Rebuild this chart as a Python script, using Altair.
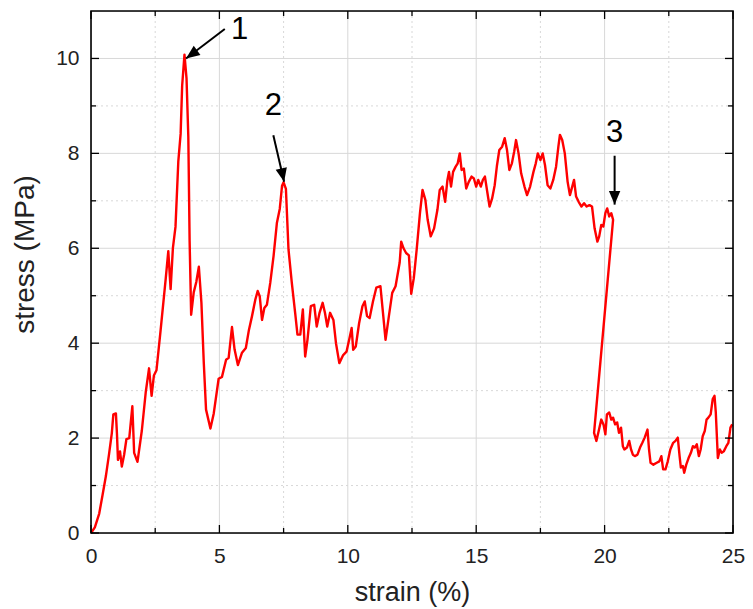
import altair as alt
import pandas as pd

# ---- data ----
strain = [0, 0.15, 0.32, 0.45, 0.58, 0.7, 0.81, 0.87, 0.97, 1.01, 1.05, 1.13, 1.2, 1.29, 1.38, 1.49,
          1.61, 1.68, 1.81, 1.98, 2.13, 2.26, 2.36, 2.45, 2.55, 2.71, 2.91, 3.01, 3.1, 3.19, 3.29,
          3.4, 3.49, 3.55, 3.64, 3.72, 3.79, 3.84, 3.9, 4.0, 4.1, 4.2, 4.3, 4.39, 4.48, 4.65, 4.78,
          4.97, 5.1, 5.26, 5.36, 5.49, 5.59, 5.72, 5.88, 6.03, 6.15, 6.27, 6.4, 6.49, 6.57, 6.66,
          6.75, 6.85, 6.98, 7.11, 7.24, 7.35, 7.44, 7.5, 7.59, 7.69, 7.82, 7.95, 8.04, 8.15, 8.25,
          8.34, 8.43, 8.56, 8.69, 8.79, 8.9, 9.02, 9.11, 9.2, 9.31, 9.44, 9.54, 9.67, 9.82, 9.95,
          10.08, 10.15, 10.21, 10.31, 10.44, 10.57, 10.66, 10.75, 10.85, 10.98, 11.11, 11.27, 11.37,
          11.47, 11.6, 11.73, 11.86, 12.02, 12.08, 12.17, 12.27, 12.38, 12.47, 12.57, 12.68, 12.81,
          12.91, 13.02, 13.11, 13.23, 13.36, 13.49, 13.58, 13.69, 13.79, 13.88, 13.94, 14.02, 14.1,
          14.2, 14.28, 14.36, 14.43, 14.52, 14.61, 14.71, 14.82, 14.91, 15.0, 15.08, 15.18, 15.26,
          15.34, 15.43, 15.52, 15.62, 15.72, 15.81, 15.9, 16.01, 16.11, 16.2, 16.29, 16.39, 16.48,
          16.55, 16.65, 16.75, 16.88, 16.98, 17.1, 17.23, 17.32, 17.4, 17.5, 17.59, 17.68, 17.78,
          17.89, 18.0, 18.11, 18.2, 18.26, 18.35, 18.45, 18.56, 18.65, 18.74, 18.81, 18.89, 18.99,
          19.1, 19.2, 19.3, 19.41, 19.51, 19.61, 19.72, 19.79, 19.87, 19.95, 20.03, 20.1, 20.18,
          20.26, 20.33, 19.59, 19.68, 19.77, 19.87, 19.96, 20.03, 20.09, 20.18, 20.26, 20.33, 20.41,
          20.49, 20.56, 20.64, 20.71, 20.77, 20.87, 20.96, 21.03, 21.1, 21.18, 21.28, 21.38, 21.47,
          21.56, 21.67, 21.73, 21.79, 21.9, 22.03, 22.13, 22.21, 22.28, 22.37, 22.46, 22.56, 22.67,
          22.76, 22.85, 22.92, 22.97, 23.05, 23.1, 23.18, 23.27, 23.36, 23.44, 23.51, 23.59, 23.67,
          23.74, 23.82, 23.9, 23.97, 24.04, 24.13, 24.21, 24.28, 24.33, 24.41, 24.49, 24.56, 24.64,
          24.74, 24.82, 24.9, 24.97]
stress = [0, 0.12, 0.41, 0.8, 1.2, 1.65, 2.1, 2.5, 2.52, 2.1, 1.54, 1.72, 1.4, 1.65, 1.98, 2.0,
          2.67, 1.69, 1.5, 2.16, 2.96, 3.47, 2.89, 3.32, 3.43, 4.27, 5.36, 5.94, 5.14, 6.01, 6.45,
          7.83, 8.41, 9.43, 10.08, 9.58, 8.34, 6.16, 4.6, 5.07, 5.29, 5.61, 4.85, 3.61, 2.6, 2.2, 2.52,
          3.25, 3.29, 3.65, 3.69, 4.34, 3.87, 3.54, 3.8, 3.9, 4.28, 4.57, 4.92, 5.1, 4.99, 4.49,
          4.74, 4.81, 5.27, 5.84, 6.54, 6.83, 7.32, 7.39, 7.25, 5.98, 5.27, 4.64, 4.18, 4.18, 4.71,
          3.72, 4.07, 4.78, 4.81, 4.35, 4.64, 4.85, 4.64, 4.35, 4.64, 4.49, 4.0, 3.58, 3.75, 3.82,
          4.14, 4.32, 3.86, 3.93, 4.42, 4.78, 4.88, 4.57, 4.53, 4.88, 5.17, 5.2, 4.64,
          4.07, 4.57, 5.06, 5.2, 5.7, 6.14, 6.0, 5.9, 5.85, 5.04, 5.37, 5.96, 6.74,
          7.23, 7.02, 6.6, 6.25, 6.42, 6.81, 7.23, 7.3, 6.98, 7.44, 7.61, 7.3, 7.61,
          7.72, 7.79, 8.0, 7.65, 7.68, 7.26, 7.4, 7.51, 7.47, 7.3, 7.44, 7.3, 7.44,
          7.51, 7.19, 6.88, 7.05, 7.33, 7.75, 8.07, 8.14, 8.32, 8.07, 7.65, 7.79, 8.04,
          8.28, 8.0, 7.58, 7.3, 7.12, 7.3, 7.61, 7.79, 8.0, 7.86, 8.0, 7.75, 7.33,
          7.26, 7.44, 7.72, 8.14, 8.39, 8.28, 8.0, 7.4, 7.12, 7.3, 7.44, 7.09, 6.98,
          6.88, 6.95, 6.88, 6.91, 6.88, 6.42, 6.14, 6.25, 6.49, 6.46, 6.74, 6.84, 6.67,
          6.74, 6.6, 2.11, 1.94, 2.15, 2.39, 2.28, 2.08, 2.5, 2.54, 2.39, 2.43, 2.29,
          2.33, 2.11, 2.22, 1.83, 1.76, 1.8, 1.94, 1.76, 1.65, 1.62, 1.65, 1.8, 1.9,
          2.01, 2.18, 1.76, 1.48, 1.44, 1.48, 1.51, 1.62, 1.34, 1.34, 1.51, 1.76, 1.9,
          1.94, 2.01, 1.62, 1.38, 1.41, 1.27, 1.44, 1.58, 1.69, 1.83, 1.8, 1.87, 1.62,
          1.76, 2.04, 2.15, 2.39, 2.43, 2.5, 2.82, 2.89, 2.54, 1.58, 1.76, 1.69, 1.72,
          1.83, 1.9, 2.22, 2.29]

x_major = [0, 5, 10, 15, 20, 25]
x_minor = [2.5, 7.5, 12.5, 17.5, 22.5]
y_major = [0, 2, 4, 6, 8, 10]
y_minor = [1, 3, 5, 7, 9]

# annotations: label, label position, arrow start, arrow tip (data units), arrow heading (deg)
ann_label = ["1", "2", "3"]
ann_lx = [5.79, 7.1, 20.39]
ann_ly = [10.6, 9.0, 8.42]
ann_x0 = [5.21, 7.1, 20.39]
ann_y0 = [10.62, 8.38, 7.95]
ann_x1 = [3.7, 7.52, 20.39]
ann_y1 = [10.0, 7.4, 6.92]
ann_angle = [234, 168, 180]

W, H = 642, 522
FONT = "Liberation Sans, Arial, sans-serif"

curve = pd.DataFrame({"strain": strain, "stress": stress, "i": range(len(strain))})
ann = pd.DataFrame({"label": ann_label, "lx": ann_lx, "ly": ann_ly, "x0": ann_x0, "y0": ann_y0,
                    "x1": ann_x1, "y1": ann_y1, "ang": ann_angle})

xs = alt.Scale(domain=[0, 25], nice=False, zero=False)
ys = alt.Scale(domain=[0, 11], nice=False, zero=False)
GRID = "#d8d8d8"

XA = alt.Axis(values=x_major, title="strain (%)", ticks=False, domain=False, grid=False,
              labelFontSize=21, labelFont=FONT, labelPadding=12, labelColor="#222",
              labelFlush=False, labelOverlap=False,
              titleFontSize=27, titleFont=FONT, titleFontWeight="normal",
              titleColor="#222", titlePadding=13)
YA = alt.Axis(values=y_major, title="stress (MPa)", ticks=False, domain=False, grid=False,
              labelFontSize=21, labelFont=FONT, labelPadding=12, labelColor="#222",
              labelFlush=False, labelOverlap=False,
              titleFontSize=28, titleFont=FONT, titleFontWeight="normal",
              titleColor="#222", titlePadding=16, titleY=243)


def X(f):
    return alt.X(f, scale=xs, axis=XA)


def Y(f):
    return alt.Y(f, scale=ys, axis=YA)


def vrules(vals, **kw):
    return alt.Chart(pd.DataFrame({"v": vals})).mark_rule(**kw).encode(x=X("v:Q"))


def hrules(vals, **kw):
    return alt.Chart(pd.DataFrame({"v": vals})).mark_rule(**kw).encode(y=Y("v:Q"))


grid = (vrules(x_major[1:-1], color=GRID, strokeWidth=1)
        + vrules(x_minor, color=GRID, strokeWidth=1, strokeDash=[2, 3])
        + hrules(y_major[1:], color=GRID, strokeWidth=1)
        + hrules(y_minor, color=GRID, strokeWidth=1, strokeDash=[2, 3]))


def xticks(vals, ln):
    d = pd.DataFrame({"v": vals})
    b = alt.Chart(d).mark_rule(color="black", strokeWidth=1.3).encode(
        x=X("v:Q"), y=alt.value(H), y2=alt.value(H - ln))
    t = alt.Chart(d).mark_rule(color="black", strokeWidth=1.3).encode(
        x=X("v:Q"), y=alt.value(0), y2=alt.value(ln))
    return b + t


def yticks(vals, ln):
    d = pd.DataFrame({"v": vals})
    l = alt.Chart(d).mark_rule(color="black", strokeWidth=1.3).encode(
        y=Y("v:Q"), x=alt.value(0), x2=alt.value(ln))
    r = alt.Chart(d).mark_rule(color="black", strokeWidth=1.3).encode(
        y=Y("v:Q"), x=alt.value(W), x2=alt.value(W - ln))
    return l + r


ticks = xticks(x_major, 8) + xticks(x_minor, 5) + yticks(y_major, 8) + yticks(y_minor, 5)

line = alt.Chart(curve).mark_line(color="#ff0000", strokeWidth=2.4, strokeJoin="round").encode(
    x=X("strain:Q"), y=Y("stress:Q"), order="i:Q")

frame = alt.Chart(pd.DataFrame({"k": [0]})).mark_rect(fill=None, stroke="black", strokeWidth=1.6).encode(
    x=alt.value(0), x2=alt.value(W), y=alt.value(0), y2=alt.value(H))

arrows = alt.Chart(ann).mark_rule(color="black", strokeWidth=2).encode(
    x=X("x0:Q"), y=Y("y0:Q"), x2="x1:Q", y2="y1:Q")
heads = alt.Chart(ann).mark_point(shape="M0,0 L0.5,1.2 L-0.5,1.2 Z", filled=True, color="black",
                                  opacity=1, size=520).encode(
    x=X("x1:Q"), y=Y("y1:Q"), angle=alt.Angle("ang:Q", scale=None))
labels = alt.Chart(ann).mark_text(fontSize=31, font=FONT, color="black", baseline="middle",
                                  align="center").encode(
    x=X("lx:Q"), y=Y("ly:Q"), text="label:N")

chart = alt.layer(grid, line, ticks, frame, arrows, heads, labels).properties(
    width=W, height=H, autosize="none",
    padding={"left": 83, "top": 3, "right": 12, "bottom": 75},
).configure_view(stroke=None).configure(background="white")

chart.save("out.html", embed_options={"renderer": "svg", "actions": False})
